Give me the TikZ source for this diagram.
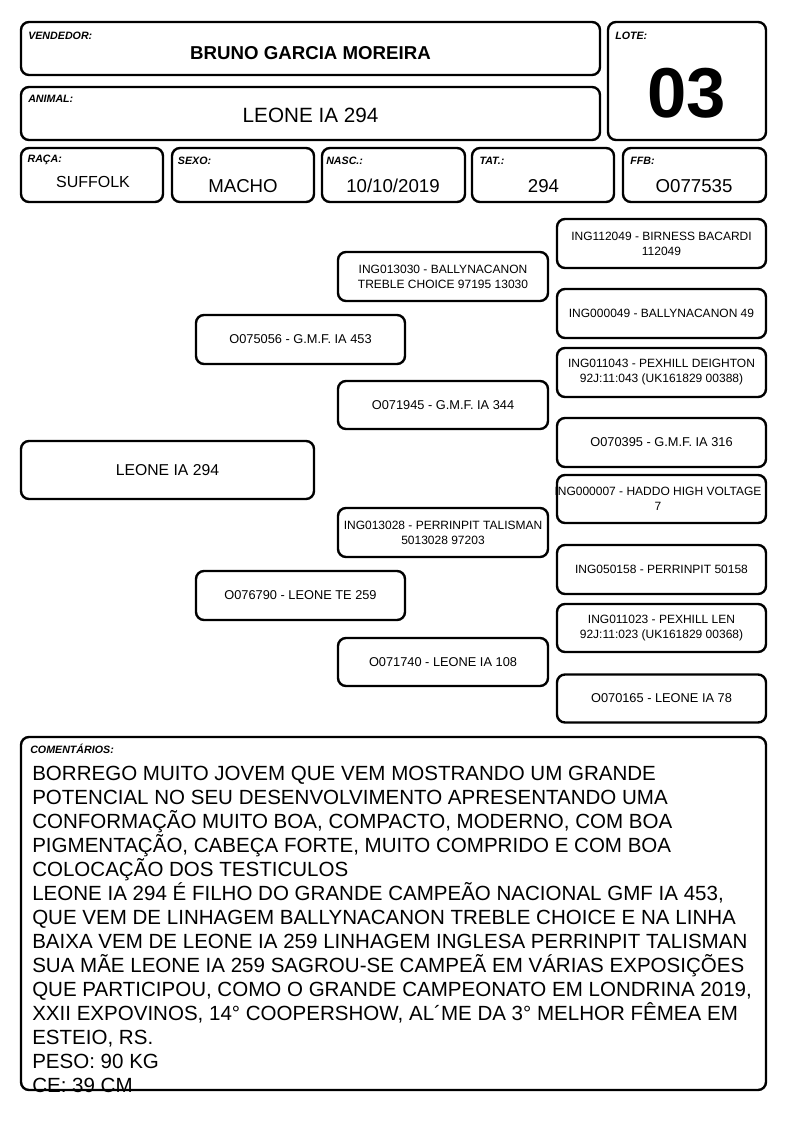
\documentclass[tikz,border=0pt]{standalone}
\usepackage{fontspec}
\setmainfont{Liberation Sans}
\begin{document}
\begin{tikzpicture}[x=0.75pt,y=-0.75pt,
  box/.style={draw,line width=1.8pt,rounded corners=6pt,inner sep=0pt},
  sz/.style 2 args={minimum width=#1*0.75pt,minimum height=#2*0.75pt},
  lbl/.style={anchor=base west,inner sep=0pt,font=\fontsize{8}{9.6}\selectfont\bfseries\itshape},
  val/.style={anchor=base,inner sep=0pt},
  ped/.style={box,sz={209}{49},align=center,font=\fontsize{9}{11.25}\selectfont},
  pedo/.style={box,sz={209}{49},align=center,font=\fontsize{9.6}{11.25}\selectfont}]
\useasboundingbox[fill=white] (0,0) rectangle (794,1123);

% header
\node[box,sz={579}{53}] (vend) at (310.5,48.5) {};
\node[lbl] (vendl) at (28,39.5) {VENDEDOR:};
\node[val,font=\fontsize{14}{16}\selectfont\bfseries] (vendv) at (310.5,60) {BRUNO GARCIA MOREIRA};

\node[box,sz={579}{53}] (anim) at (310.5,113.5) {};
\node[lbl] (animl) at (28,103) {ANIMAL:};
\node[val,font=\fontsize{15.5}{18}\selectfont] (animv) at (310.5,123) {LEONE IA 294};

\node[box,sz={158}{118}] (lote) at (687,81) {};
\node[lbl] (lotel) at (615,39.5) {LOTE:};
\node[val,font=\fontsize{53}{60}\selectfont\bfseries] (lotev) at (687,118) {03};

\node[box,sz={142}{54}] (raca) at (92,175) {};
\node[lbl] (racal) at (27.3,163) {RAÇA:};
\node[val,font=\fontsize{12}{14}\selectfont] (racav) at (93,187.4) {SUFFOLK};

\node[box,sz={142}{54}] (sexo) at (243,175) {};
\node[lbl] (sexol) at (177.7,164.8) {SEXO:};
\node[val,font=\fontsize{14}{16}\selectfont] (sexov) at (243,192.4) {MACHO};

\node[box,sz={143}{54}] (nasc) at (393.5,175) {};
\node[lbl] (nascl) at (326,164.8) {NASC.:};
\node[val,font=\fontsize{14}{16}\selectfont] (nascv) at (393,192.4) {10/10/2019};

\node[box,sz={142}{54}] (tat) at (543,175) {};
\node[lbl] (tatl) at (479.3,164.8) {TAT.:};
\node[val,font=\fontsize{14}{16}\selectfont] (tatv) at (543.5,192.4) {294};

\node[box,sz={143}{54}] (ffb) at (694.5,175) {};
\node[lbl] (ffbl) at (630,164.8) {FFB:};
\node[val,font=\fontsize{14}{16}\selectfont] (ffbv) at (694,192.4) {O077535};

% pedigree
\node[box,sz={293}{58},font=\fontsize{11.8}{14}\selectfont] (p0) at (167.5,470) {LEONE IA 294};

\node[pedo] (p1) at (300.5,339.5) {O075056 - G.M.F. IA 453};
\node[pedo] (p2) at (300.5,595.5) {O076790 - LEONE TE 259};

\node[ped,sz={210}{49}] (p3) at (443,276.5) {ING013030 - BALLYNACANON\\TREBLE CHOICE 97195 13030};
\node[pedo,sz={210}{48}] (p4) at (443,405) {O071945 - G.M.F. IA 344};
\node[ped,sz={210}{49}] (p5) at (443,532.5) {ING013028 - PERRINPIT TALISMAN\\5013028 97203};
\node[pedo,sz={210}{48}] (p6) at (443,662) {O071740 - LEONE IA 108};

\node[ped] (p7) at (661.5,243.5) {ING112049 - BIRNESS BACARDI\\112049};
\node[ped] (p8) at (661.5,313.5) {ING000049 - BALLYNACANON 49};
\node[ped] (p9) at (661.5,372.5) {ING011043 - PEXHILL DEIGHTON\\92J:11:043 (UK161829 00388)};
\node[pedo] (p10) at (661.5,442.5) {O070395 - G.M.F. IA 316};
\node[box,sz={209}{48}] (p11) at (661.5,499) {};
\node[align=center,inner sep=0pt,font=\fontsize{9}{11.25}\selectfont] (p11t) at (658,499) {ING000007 - HADDO HIGH VOLTAGE\\7};
\node[ped] (p12) at (661.5,569.5) {ING050158 - PERRINPIT 50158};
\node[ped,sz={209}{48}] (p13) at (661.5,628) {ING011023 - PEXHILL LEN\\92J:11:023 (UK161829 00368)};
\node[pedo,sz={209}{48}] (p14) at (661.5,698.5) {O070165 - LEONE IA 78};

% comments
\node[anchor=base west,inner sep=0pt] (comt) at (32,780.5) {\parbox[t]{580pt}{\fontsize{15.4}{17.98}\selectfont\raggedright
BORREGO MUITO JOVEM QUE VEM MOSTRANDO UM GRANDE\\
POTENCIAL NO SEU DESENVOLVIMENTO APRESENTANDO UMA\\
CONFORMAÇÃO MUITO BOA, COMPACTO, MODERNO, COM BOA\\
PIGMENTAÇÃO, CABEÇA FORTE, MUITO COMPRIDO E COM BOA\\
COLOCAÇÃO DOS TESTICULOS\\
LEONE IA 294 É FILHO DO GRANDE CAMPEÃO NACIONAL GMF IA 453,\\
QUE VEM DE LINHAGEM BALLYNACANON TREBLE CHOICE E NA LINHA\\
BAIXA VEM DE LEONE IA 259 LINHAGEM INGLESA PERRINPIT TALISMAN\\
SUA MÃE LEONE IA 259 SAGROU-SE CAMPEÃ EM VÁRIAS EXPOSIÇÕES\\
QUE PARTICIPOU, COMO O GRANDE CAMPEONATO EM LONDRINA 2019,\\
XXII EXPOVINOS, 14° COOPERSHOW, AL´ME DA 3° MELHOR FÊMEA EM\\
ESTEIO, RS.\\
PESO: 90 KG\\
CE: 39 CM}};
\node[box,sz={745}{353}] (com) at (393.5,913.5) {};
\node[lbl] (coml) at (30,753) {COMENTÁRIOS:};
\end{tikzpicture}
\end{document}
